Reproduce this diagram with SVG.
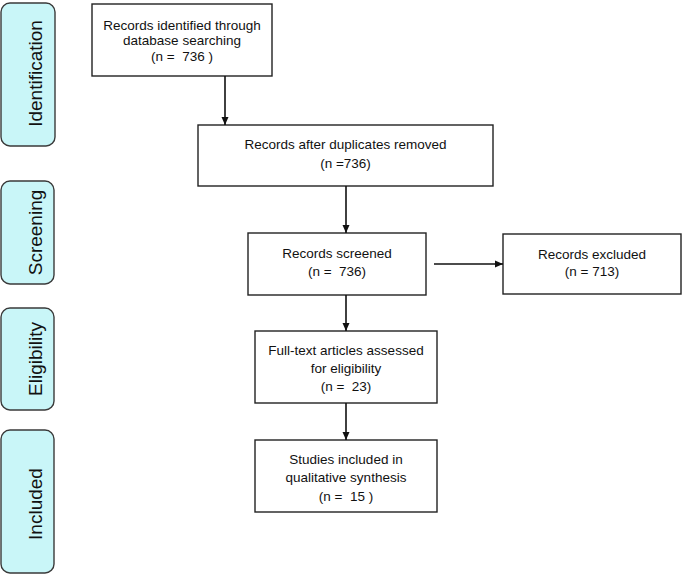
<svg xmlns="http://www.w3.org/2000/svg" width="685" height="576" viewBox="0 0 685 576">
<style>
.phase{fill:#c9f6f8;stroke:#3a3a3a;stroke-width:1.4}
.ptxt{font-family:"Liberation Sans",Arial,sans-serif;font-size:19px;fill:#111;text-anchor:middle}
.box{fill:#fff;stroke:#222;stroke-width:1.4}
.t{font-family:"Liberation Sans",Arial,sans-serif;font-size:13.5px;fill:#111;text-anchor:middle;white-space:pre}
.c{stroke:#111;stroke-width:1.6;fill:none;marker-end:url(#ah)}
</style>
<defs>
<marker id="ah" markerWidth="8" markerHeight="8" viewBox="0 0 8 8" refX="8" refY="4" orient="auto" markerUnits="userSpaceOnUse">
<path d="M0,0.5 L8,4 L0,7.5 Z" fill="#111"/>
</marker>
</defs>
<rect width="685" height="576" fill="#fff"/>
<g id="phase-identification"><rect class="phase" x="1" y="3" width="54" height="143" rx="9"/><text class="ptxt" transform="translate(42,73.5) rotate(-90)">Identification</text></g>
<g id="phase-screening"><rect class="phase" x="1" y="181" width="53" height="103" rx="9"/><text class="ptxt" transform="translate(42,232.5) rotate(-90)">Screening</text></g>
<g id="phase-eligibility"><rect class="phase" x="1" y="308" width="53" height="102" rx="9"/><text class="ptxt" transform="translate(42,359) rotate(-90)">Eligibility</text></g>
<g id="phase-included"><rect class="phase" x="1" y="430" width="53" height="143" rx="9"/><text class="ptxt" transform="translate(42,504) rotate(-90)">Included</text></g>

<g id="identified"><rect class="box" x="92" y="4" width="180" height="72"/>
<text class="t" x="182" y="29.5">Records identified through</text>
<text class="t" x="182" y="45">database searching</text>
<text class="t" x="182" y="60.5" xml:space="preserve">(n =  736 )</text></g>

<g id="dedup"><rect class="box" x="198" y="125" width="295" height="61"/>
<text class="t" x="345.5" y="148.5">Records after duplicates removed</text>
<text class="t" x="345.5" y="167.5">(n =736)</text></g>

<g id="screened"><rect class="box" x="248" y="233" width="178" height="62"/>
<text class="t" x="337" y="257.5">Records screened</text>
<text class="t" x="337" y="276" xml:space="preserve">(n =  736)</text></g>

<g id="excluded"><rect class="box" x="503" y="234" width="178" height="60"/>
<text class="t" x="592" y="258.5">Records excluded</text>
<text class="t" x="592" y="276">(n = 713)</text></g>

<g id="fulltext"><rect class="box" x="255" y="331" width="182" height="72"/>
<text class="t" x="346" y="354.5">Full-text articles assessed</text>
<text class="t" x="346" y="372.5">for eligibility</text>
<text class="t" x="346" y="391" xml:space="preserve">(n =  23)</text></g>

<g id="included"><rect class="box" x="255" y="440" width="182" height="72"/>
<text class="t" x="346" y="463.5">Studies included in</text>
<text class="t" x="346" y="482">qualitative synthesis</text>
<text class="t" x="346" y="500.5" xml:space="preserve">(n =  15 )</text></g>

<g id="connectors">
<line class="c" x1="225" y1="76" x2="225" y2="125"/>
<line class="c" x1="346" y1="186" x2="346" y2="233"/>
<line class="c" x1="434" y1="264" x2="503" y2="264"/>
<line class="c" x1="346" y1="295" x2="346" y2="331"/>
<line class="c" x1="346" y1="403" x2="346" y2="440"/>
</g>
</svg>
